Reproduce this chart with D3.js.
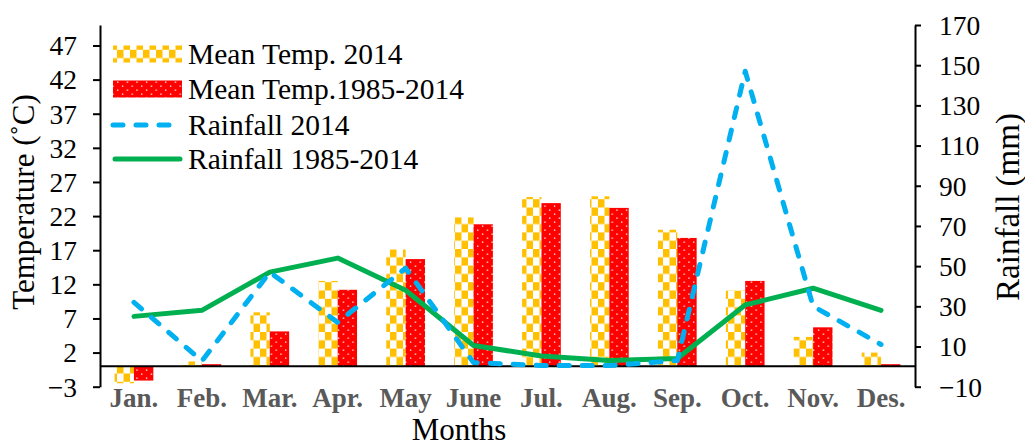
<!DOCTYPE html>
<html>
<head>
<meta charset="utf-8">
<script src="https://cdn.jsdelivr.net/npm/d3@7"></script>
<style>
  html, body { margin: 0; padding: 0; background: #fff; }
  svg { display: block; font-family: "Liberation Serif", "Times New Roman", serif; }
</style>
</head>
<body>
<svg id="chart" width="1025" height="447"></svg>
<script>
// Monthly climate data
const months = ["Jan.", "Feb.", "Mar.", "Apr.", "May", "June", "Jul.", "Aug.", "Sep.", "Oct.", "Nov.", "Des."];
const temp2014 = [-2.5, 0.7, 7.9, 12.5, 17.1, 21.8, 24.8, 24.9, 20.0, 11.1, 4.3, 2.0];
const tempLongTerm = [-2.1, 0.3, 5.1, 11.2, 15.7, 20.8, 23.9, 23.2, 18.8, 12.5, 5.7, 0.3];
const rain2014 = [32, 2.8, 47, 22, 49, 2, 0.5, 0.5, 3, 147, 30, 11];
const rainLongTerm = [25, 28, 47, 54, 38, 10.5, 5.3, 3, 4, 30.7, 39, 28];
const tempTicks = [-3, 2, 7, 12, 17, 22, 27, 32, 37, 42, 47];
const rainTicks = [-10, 10, 30, 50, 70, 90, 110, 130, 150, 170];
const seriesNames = ["Mean Temp. 2014", "Mean Temp.1985-2014", "Rainfall 2014", "Rainfall 1985-2014"];

const svg = d3.select("#chart");
const plotLeft = 100, plotRight = 915, plotTop = 25, plotBottom = 386.7;

const x = d3.scaleBand().domain(months).range([plotLeft, plotRight]).paddingInner(0.43).paddingOuter(0.215);
const xSub = d3.scaleBand().domain(["a", "b"]).range([0, x.bandwidth()]);
const yT = d3.scaleLinear().domain([-3, 50]).range([plotBottom, plotTop]);
const yR = d3.scaleLinear().domain([-10, 170]).range([plotBottom, plotTop]);

// Fill patterns
const defs = svg.append("defs");
const chk = defs.append("pattern").attr("id", "checker").attr("patternUnits", "userSpaceOnUse")
  .attr("width", 13).attr("height", 16.6);
chk.append("rect").attr("width", 13).attr("height", 16.6).attr("fill", "#fff");
chk.append("rect").attr("x", 0).attr("y", 0).attr("width", 6.5).attr("height", 8.3).attr("fill", "#FFC000");
chk.append("rect").attr("x", 6.5).attr("y", 8.3).attr("width", 6.5).attr("height", 8.3).attr("fill", "#FFC000");

const dots = defs.append("pattern").attr("id", "dots").attr("patternUnits", "userSpaceOnUse")
  .attr("width", 9.6).attr("height", 8);
dots.append("rect").attr("width", 9.6).attr("height", 8).attr("fill", "#FF0000");
dots.append("rect").attr("x", 1.9).attr("y", 1.5).attr("width", 1.3).attr("height", 1.3).attr("fill", "#fff");
dots.append("rect").attr("x", 6.7).attr("y", 5.5).attr("width", 1.3).attr("height", 1.3).attr("fill", "#fff");

// Bars
const barG = svg.append("g");
function drawBars(values, key, fill) {
  barG.selectAll(null).data(values).enter().append("rect")
    .attr("x", (d, i) => x(months[i]) + xSub(key))
    .attr("width", xSub.bandwidth())
    .attr("y", d => Math.min(yT(d), yT(0)))
    .attr("height", d => Math.abs(yT(d) - yT(0)))
    .attr("fill", fill);
}
drawBars(temp2014, "a", "url(#checker)");
drawBars(tempLongTerm, "b", "url(#dots)");

// Zero baseline
svg.append("line").attr("x1", plotLeft).attr("x2", plotRight).attr("y1", yT(0)).attr("y2", yT(0))
  .attr("stroke", "#000").attr("stroke-width", 2);

// Rainfall lines
const cx = m => x(m) + x.bandwidth() / 2;
const line = d3.line().x((d, i) => cx(months[i])).y(d => yR(d));
svg.append("path").datum(rainLongTerm).attr("d", line).attr("fill", "none")
  .attr("stroke", "#00B050").attr("stroke-width", 5).attr("stroke-linejoin", "round").attr("stroke-linecap", "round");
svg.append("path").datum(rain2014).attr("d", line).attr("fill", "none")
  .attr("stroke", "#00B0F0").attr("stroke-width", 5).attr("stroke-dasharray", "10,13")
  .attr("stroke-linejoin", "round").attr("stroke-linecap", "round");

// Axes
const axL = svg.append("g").attr("transform", `translate(${plotLeft},0)`)
  .call(d3.axisLeft(yT).tickValues(tempTicks).tickSize(7).tickSizeOuter(0).tickFormat(d3.format("d")));
const axR = svg.append("g").attr("transform", `translate(${plotRight},0)`)
  .call(d3.axisRight(yR).tickValues(rainTicks).tickSize(6).tickSizeOuter(0).tickFormat(d3.format("d")));
[axL, axR].forEach(a => {
  a.select(".domain").attr("stroke", "#000").attr("stroke-width", 2);
  a.selectAll(".tick line").attr("stroke", "#000").attr("stroke-width", 2);
  a.selectAll(".tick text").attr("font-family", "Liberation Serif").attr("font-size", 27.5).attr("fill", "#000");
});
axL.selectAll(".tick text").attr("x", -23).attr("dy", "0.34em");
axR.selectAll(".tick text").attr("x", 24).attr("dy", "0.34em");

// Month labels
svg.append("g").selectAll("text").data(months).enter().append("text")
  .attr("x", d => cx(d)).attr("y", 407).attr("text-anchor", "middle")
  .attr("font-size", 27).attr("font-weight", "bold").attr("fill", "#595959").text(d => d);

// Axis titles
svg.append("text").attr("x", 459).attr("y", 440).attr("text-anchor", "middle")
  .attr("font-size", 31).attr("fill", "#000").text("Months");
svg.append("text").attr("transform", "translate(34,202) rotate(-90)").attr("text-anchor", "middle")
  .attr("font-size", 31).attr("fill", "#000").text("Temperature (˚C)");
svg.append("text").attr("transform", "translate(1019,207) rotate(-90)").attr("text-anchor", "middle")
  .attr("font-size", 33).attr("fill", "#000").text("Rainfall (mm)");

// Legend
const lg = svg.append("g");
const rowY = [54, 89, 125, 159];
lg.append("rect").attr("x", 113).attr("y", rowY[0] - 8.5).attr("width", 69).attr("height", 17).attr("fill", "url(#checker)");
lg.append("rect").attr("x", 113).attr("y", rowY[1] - 8.5).attr("width", 69).attr("height", 17).attr("fill", "url(#dots)");
lg.append("line").attr("x1", 113).attr("x2", 179).attr("y1", rowY[2]).attr("y2", rowY[2])
  .attr("stroke", "#00B0F0").attr("stroke-width", 5).attr("stroke-dasharray", "10,13").attr("stroke-linecap", "round");
lg.append("line").attr("x1", 115).attr("x2", 180).attr("y1", rowY[3]).attr("y2", rowY[3])
  .attr("stroke", "#00B050").attr("stroke-width", 5).attr("stroke-linecap", "round");
lg.selectAll("text").data(seriesNames).enter().append("text")
  .attr("x", 188).attr("y", (d, i) => rowY[i] + 9.5)
  .attr("font-size", 29.5).attr("fill", "#000").text(d => d);
</script>
</body>
</html>
